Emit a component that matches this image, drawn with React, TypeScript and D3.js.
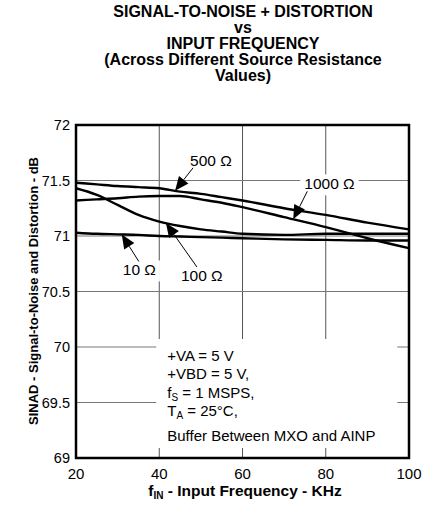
import { useEffect, useRef } from "react"
import * as d3 from "d3"

// frequency points (kHz) shared by every curve
const freqs = [20, 25, 30, 35, 40, 45, 50, 55, 60, 70, 80, 90, 100]

// SINAD (dB) per source resistance
const sinad500 = [71.48, 71.465, 71.45, 71.44, 71.43, 71.4, 71.38, 71.35, 71.32, 71.25, 71.19, 71.12, 71.06]
const sinad1000 = [71.32, 71.33, 71.34, 71.355, 71.36, 71.36, 71.33, 71.3, 71.26, 71.17, 71.08, 70.98, 70.89]
const sinad100 = [71.43, 71.37, 71.28, 71.19, 71.13, 71.09, 71.06, 71.04, 71.02, 71.01, 71.02, 71.02, 71.02]
const sinad10 = [71.03, 71.02, 71.015, 71.01, 71.0, 70.995, 70.99, 70.985, 70.98, 70.97, 70.965, 70.96, 70.96]

const xTicks = [20, 40, 60, 80, 100]
const yTicks = [69, 69.5, 70, 70.5, 71, 71.5, 72]

const titleLines = [
  "SIGNAL-TO-NOISE + DISTORTION",
  "vs",
  "INPUT FREQUENCY",
  "(Across Different Source Resistance",
  "Values)",
]

// callouts: label, curve, frequency where the arrow points
const callouts = [
  { text: "500 Ω", values: sinad500, f: 43.8, dx: 15, dy: -25 },
  { text: "1000 Ω", values: sinad1000, f: 72.2, dx: 11, dy: -30 },
  { text: "10 Ω", values: sinad10, f: 31, dx: 1, dy: 41 },
  { text: "100 Ω", values: sinad100, f: 41.6, dx: 15, dy: 58 },
]

const conditions = ["+VA = 5 V", "+VBD = 5 V,", "fS = 1 MSPS,", "TA = 25°C,", "Buffer Between MXO and AINP"]

const FONT = "Arial, 'Liberation Sans', sans-serif"

export default function App() {
  const svgRef = useRef<SVGSVGElement>(null)

  useEffect(() => {
    if (!svgRef.current) return
    const svg = d3.select(svgRef.current)
    svg.selectAll("*").remove()

    const width = 430
    const height = 506
    const margin = { top: 125, right: 21, bottom: 48, left: 76 }
    const innerW = width - margin.left - margin.right
    const innerH = height - margin.top - margin.bottom

    const x = d3.scaleLinear().domain([20, 100]).range([0, innerW])
    const y = d3.scaleLinear().domain([69, 72]).range([innerH, 0])

    svg.append("rect").attr("width", width).attr("height", height).attr("fill", "white")

    // title
    svg
      .append("g")
      .selectAll("text")
      .data(titleLines)
      .join("text")
      .attr("x", 243)
      .attr("y", (_, i) => 16.5 + i * 16.2)
      .attr("text-anchor", "middle")
      .attr("font-family", FONT)
      .attr("font-weight", "bold")
      .attr("font-size", "16px")
      .text((d) => d)

    const g = svg.append("g").attr("transform", `translate(${margin.left},${margin.top})`)

    // grid
    g.append("g")
      .selectAll("line")
      .data(xTicks)
      .join("line")
      .attr("x1", (d) => x(d))
      .attr("x2", (d) => x(d))
      .attr("y1", 0)
      .attr("y2", innerH)
      .attr("stroke", "#555")
      .attr("stroke-width", 1)

    g.append("g")
      .selectAll("line")
      .data(yTicks)
      .join("line")
      .attr("x1", 0)
      .attr("x2", innerW)
      .attr("y1", (d) => y(d))
      .attr("y2", (d) => y(d))
      .attr("stroke", "#777")
      .attr("stroke-width", 1)

    // conditions box (blanks the grid behind it)
    const box = g.append("g").attr("transform", `translate(${x(40) - 3},${y(70) - 8})`)
    box.append("rect").attr("width", 241).attr("height", 109).attr("fill", "white")
    const condText = box
      .selectAll("text")
      .data(conditions)
      .join("text")
      .attr("x", 11)
      .attr("y", (_, i) => 22 + i * 18.3 + (i === 4 ? 7 : 0))
      .attr("font-family", FONT)
      .attr("font-size", "15px")
    condText.each(function (d) {
      const t = d3.select(this)
      if (d.startsWith("fS")) {
        t.append("tspan").text("f")
        t.append("tspan").attr("font-size", "10px").attr("dy", 3).text("S")
        t.append("tspan").attr("dy", -3).text(d.slice(2))
      } else if (d.startsWith("TA")) {
        t.append("tspan").text("T")
        t.append("tspan").attr("font-size", "10px").attr("dy", 3).text("A")
        t.append("tspan").attr("dy", -3).text(d.slice(2))
      } else {
        t.text(d)
      }
    })

    // curves
    const line = d3
      .line<number>()
      .x((_, i) => x(freqs[i]))
      .y((d) => y(d))
      .curve(d3.curveMonotoneX)

    g.append("g")
      .selectAll("path")
      .data([sinad500, sinad1000, sinad100, sinad10])
      .join("path")
      .attr("d", (d) => line(d))
      .attr("fill", "none")
      .attr("stroke", "black")
      .attr("stroke-width", 2.4)

    // callouts
    const interp = (vals: number[], f: number) => {
      const i = d3.bisectRight(freqs, f) - 1
      const t = (f - freqs[i]) / (freqs[i + 1] - freqs[i])
      return vals[i] + t * (vals[i + 1] - vals[i])
    }

    callouts.forEach((c) => {
      const tx = x(c.f)
      const ty = y(interp(c.values, c.f))
      const lx = tx + c.dx
      const ly = ty + c.dy
      const cg = g.append("g")
      const bg = cg.append("rect").attr("fill", "white")
      const label = cg
        .append("text")
        .attr("x", lx)
        .attr("y", ly)
        .attr("font-family", FONT)
        .attr("font-size", "15.5px")
        .text(c.text)
      const bb = (label.node() as SVGTextElement).getBBox()
      bg.attr("x", bb.x - 4)
        .attr("y", bb.y - 1)
        .attr("width", bb.width + 8)
        .attr("height", bb.height + 4)

      // arrow from label to curve
      const sx = lx + 3 + (c.dy < 0 ? 0 : 13)
      const sy = c.dy < 0 ? ly + 2 : ly - 14
      const ang = Math.atan2(ty - sy, tx - sx)
      const len = 14
      const hw = 6
      const bx = tx - len * Math.cos(ang)
      const by = ty - len * Math.sin(ang)
      g.append("line")
        .attr("x1", sx)
        .attr("y1", sy)
        .attr("x2", bx)
        .attr("y2", by)
        .attr("stroke", "black")
        .attr("stroke-width", 1)
      g.append("path")
        .attr(
          "d",
          `M${tx},${ty}L${bx + hw * Math.sin(ang)},${by - hw * Math.cos(ang)}L${bx - hw * Math.sin(ang)},${
            by + hw * Math.cos(ang)
          }Z`
        )
        .attr("fill", "black")
    })

    // frame
    g.append("rect")
      .attr("width", innerW)
      .attr("height", innerH)
      .attr("fill", "none")
      .attr("stroke", "black")
      .attr("stroke-width", 2.5)

    // tick labels
    g.append("g")
      .selectAll("text")
      .data(yTicks)
      .join("text")
      .attr("x", -6)
      .attr("y", (d) => y(d))
      .attr("dy", "0.35em")
      .attr("text-anchor", "end")
      .attr("font-family", FONT)
      .attr("font-size", "14.5px")
      .text((d) => d)

    g.append("g")
      .selectAll("text")
      .data(xTicks)
      .join("text")
      .attr("x", (d) => x(d))
      .attr("y", innerH + 21)
      .attr("text-anchor", "middle")
      .attr("font-family", FONT)
      .attr("font-size", "15px")
      .text((d) => d)

    // axis titles
    const xl = svg
      .append("text")
      .attr("x", 245)
      .attr("y", 496)
      .attr("text-anchor", "middle")
      .attr("font-family", FONT)
      .attr("font-weight", "bold")
      .attr("font-size", "15.5px")
    xl.append("tspan").text("f")
    xl.append("tspan").attr("font-size", "10px").attr("dy", 3).text("IN")
    xl.append("tspan").attr("dy", -3).text(" - Input Frequency - KHz")

    svg
      .append("text")
      .attr("transform", `translate(38,291) rotate(-90)`)
      .attr("text-anchor", "middle")
      .attr("font-family", FONT)
      .attr("font-weight", "bold")
      .attr("font-size", "13px")
      .text("SINAD - Signal-to-Noise and Distortion - dB")
  }, [])

  return (
    <svg
      ref={svgRef}
      width={430}
      height={506}
      style={{ position: "absolute", left: 0, top: 0, display: "block" }}
    />
  )
}
